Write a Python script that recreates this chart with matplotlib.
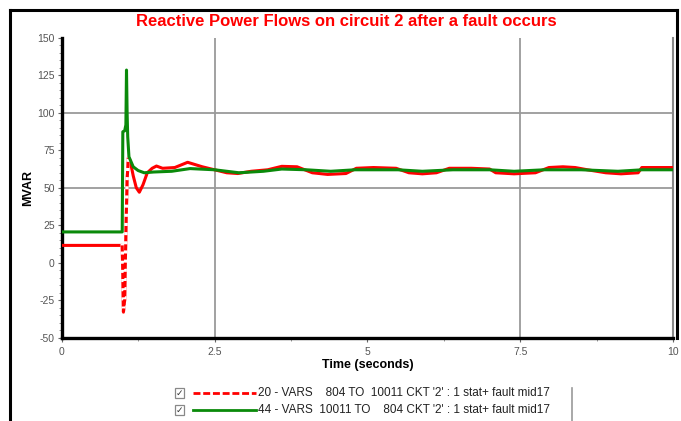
import matplotlib.pyplot as plt
from matplotlib.lines import Line2D
from matplotlib.patches import Rectangle
from matplotlib.ticker import MultipleLocator

# MVAR flow on circuit 2
t_red = [0, 0.99, 1.0, 1.01, 1.03, 1.05, 1.07, 1.09, 1.12, 1.17, 1.22, 1.27, 1.33,
         1.40, 1.48, 1.55, 1.65, 1.85, 2.06, 2.3, 2.5, 2.7, 2.88, 3.1, 3.37, 3.6,
         3.85, 4.1, 4.35, 4.65, 4.82, 5.1, 5.47, 5.68, 5.9, 6.13, 6.34, 6.7, 7.0,
         7.1, 7.4, 7.75, 7.97, 8.2, 8.4, 8.6, 8.9, 9.15, 9.43, 9.49, 10]
v_red = [11.5, 11.5, -10, -33, -25, 20, 55, 70, 68, 58, 50, 47, 52,
         60, 63, 64.5, 63, 63.5, 67, 64, 62, 60, 59.5, 61, 62, 64.3,
         64, 60, 58.9, 59.5, 63, 63.5, 63, 60, 59.3, 60, 63, 63, 62.5,
         60, 59.3, 60, 63.5, 64, 63.5, 62, 60, 59.3, 60, 63.5, 63.5]

t_grn = [0, 0.99, 1.0, 1.03, 1.05, 1.06, 1.07, 1.08, 1.10, 1.17, 1.25, 1.35, 1.5,
         1.8, 2.1, 2.5, 2.9, 3.3, 3.6, 4.0, 4.4, 4.8, 5.5, 5.9, 6.4, 7.0, 7.4,
         7.9, 8.5, 9.1, 9.5, 10]
v_grn = [20.5, 20.5, 87.4, 88, 92, 128.6, 100, 84, 70.7, 64, 61.5, 60, 60.5,
         61, 62.8, 62, 60, 61, 62.5, 62, 61, 62, 62, 61, 62, 62, 61,
         62, 62, 61, 62, 62]

labels = ["20 - VARS    804 TO  10011 CKT '2' : 1 stat+ fault mid17",
          "44 - VARS  10011 TO    804 CKT '2' : 1 stat+ fault mid17"]

W, H = 681, 421
plt.rcParams['font.family'] = ['Liberation Sans', 'DejaVu Sans']
plt.rcParams['axes.unicode_minus'] = False
fig = plt.figure(figsize=(W / 100, H / 100), dpi=100)
ax = fig.add_axes([61.7 / W, 1 - 337.5 / H, (673 - 61.7) / W, (337.5 - 38) / H])

red = '#ff0000'
grn = '#0a8a0a'

# grid lines only at some positions
for x in [2.5, 7.5]:
    ax.axvline(x, color='#9a9a9a', lw=1.3, zorder=1)
for y in [50, 100]:
    ax.axhline(y, color='#9a9a9a', lw=1.3, zorder=1)

ax.plot(t_red, v_red, color=red, lw=2.2, zorder=3)
# transient drawn dashed
ax.plot(t_red[1:8], v_red[1:8], color='white', lw=2.4, zorder=3.5)
ax.plot(t_red[1:8], v_red[1:8], color=red, lw=2.2, ls=(0, (2, 1)), zorder=3.6)
ax.plot(t_grn, v_grn, color=grn, lw=2.2, zorder=4)

ax.set_xlim(0, 10)
ax.set_ylim(-50, 150)
ax.xaxis.set_major_locator(MultipleLocator(2.5))
ax.xaxis.set_minor_locator(MultipleLocator(1.25))
ax.yaxis.set_major_locator(MultipleLocator(25))
ax.yaxis.set_minor_locator(MultipleLocator(5))
ax.set_xticks([0, 2.5, 5, 7.5, 10])
ax.set_xticklabels(['0', '2.5', '5', '7.5', '10'])
ax.tick_params(axis='both', which='major', length=3, width=0.8, color='#666666',
               labelsize=7.5, labelcolor='#555555', direction='out')
ax.tick_params(axis='both', which='minor', length=2, width=0.6, color='#888888')
ax.tick_params(axis='y', pad=2)
ax.tick_params(axis='x', pad=4)

ax.spines['top'].set_visible(False)
ax.spines['left'].set_linewidth(2.4)
ax.spines['bottom'].set_linewidth(2.4)
ax.spines['right'].set_color('#888888')
ax.spines['right'].set_linewidth(1.5)

ax.set_ylabel('MVAR', fontsize=9, fontweight='bold')
ax.yaxis.set_label_coords((34 - 61.7) / 611, 0.5)
ax.set_xlabel('Time (seconds)', fontsize=9, fontweight='bold', labelpad=1)

fig.text(346 / W, 1 - 21 / H, 'Reactive Power Flows on circuit 2 after a fault occurs',
         color=red, fontsize=12, fontweight='bold', ha='center', va='center')

# outer frame
fr = dict(color='black', lw=2.2, transform=fig.transFigure)
fig.add_artist(Line2D([10 / W, 10 / W], [0, 1 - 10 / H], **fr))
fig.add_artist(Line2D([10 / W, 677 / W], [1 - 10 / H, 1 - 10 / H], **fr))
fig.add_artist(Line2D([677 / W, 677 / W], [1 - 10 / H, 1 - 337.5 / H], **fr))
fig.add_artist(Line2D([572 / W, 572 / W], [0, 1 - 388 / H], color='#999999', lw=1.2,
                      transform=fig.transFigure))

# legend with check boxes
for i, (lab, col, ls) in enumerate([(labels[0], red, (0, (2.5, 1))), (labels[1], grn, '-')]):
    yy = 1 - (393 + 17 * i) / H
    fig.add_artist(Rectangle((175 / W, yy - 5 / H), 9 / W, 10 / H, fill=False,
                             edgecolor='#888888', lw=0.9, transform=fig.transFigure))
    fig.text(179.5 / W, yy, '\u2713', fontsize=6.5, ha='center', va='center',
             color='#333333', family='DejaVu Sans')
    fig.add_artist(Line2D([193 / W, 256 / W], [yy, yy], color=col, lw=2, ls=ls,
                          transform=fig.transFigure))
    fig.text(258 / W, yy, lab, fontsize=8.5, ha='left', va='center', color='#222222')

fig.savefig('out.png', dpi=100)
